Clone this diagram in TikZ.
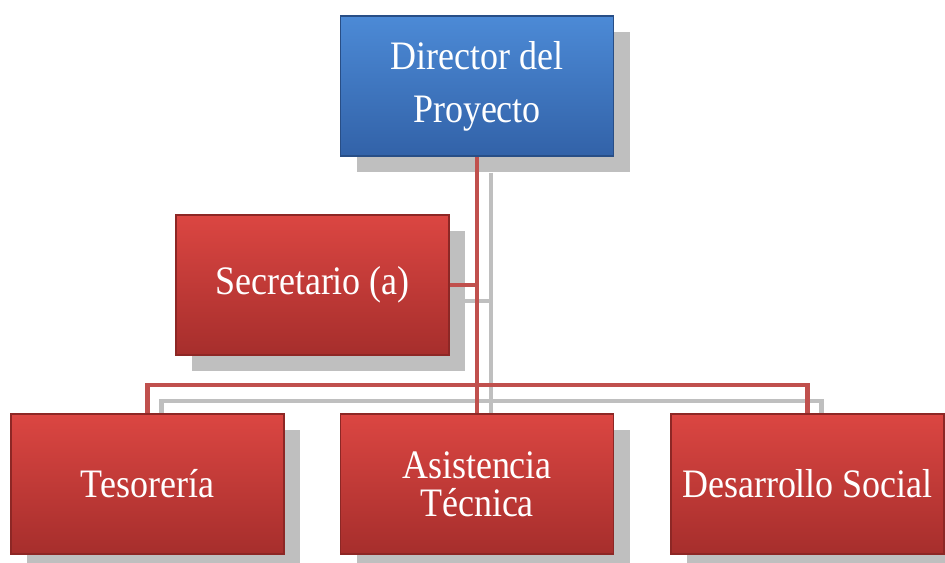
\documentclass[tikz,border=0pt]{standalone}
\usepackage{fontspec}
\setmainfont{Liberation Serif}[FakeStretch=0.89]
\usetikzlibrary{shadows,backgrounds}
\definecolor{rojoarriba}{RGB}{219,70,66}
\definecolor{rojoabajo}{RGB}{166,46,44}
\definecolor{azularriba}{RGB}{76,138,214}
\definecolor{azulabajo}{RGB}{50,98,168}
\definecolor{linea}{RGB}{192,80,77}
\definecolor{sombra}{RGB}{191,191,191}
\begin{document}
\begin{tikzpicture}[
		caja/.style={rectangle, minimum width=5.46cm, minimum height=2.8cm, inner sep=0pt,
			text=white, align=center, font=\fontsize{23}{30}\selectfont,
			drop shadow={shadow xshift=0.32cm, shadow yshift=-0.32cm, fill=sombra, opacity=1}},
		cajaroja/.style={caja, top color=rojoarriba, bottom color=rojoabajo, draw=rojoabajo!85!black, line width=0.6pt},
		cajaazul/.style={caja, top color=azularriba, bottom color=azulabajo, draw=azulabajo!80!black, line width=0.6pt},
		enlace/.style={linea, line width=2.3pt},
		enlacesombra/.style={sombra, line width=2.3pt, transform canvas={shift={(0.28cm,-0.32cm)}}}
	]
		\useasboundingbox (0,0) rectangle (18.9,11.26);
		\node[cajaazul] (dir) at (9.54, 9.54) {Director del\\Proyecto};
		\node[cajaroja] (sec) at (6.25, 5.56) {Secretario (a)};
		\node[cajaroja] (tes) at (2.95, 1.58) {Tesorería};
		\node[cajaroja, font=\fontsize{23}{21.6}\selectfont] (asis) at (9.54, 1.58) {Asistencia\\Técnica};
		\node[cajaroja] (des) at (16.15, 1.58) {Desarrollo Social};
		% sombra de las lineas, detras de las cajas
		\begin{scope}[on background layer]
			\draw[enlacesombra] (dir.south) -- (asis.north);
			\draw[enlacesombra] (sec.east) -- (sec.east -| dir.south);
			\draw[enlacesombra] (tes.north) -- ++(0,0.56) -| (des.north);
		\end{scope}
		% lineas
		\draw[enlace] (dir.south) -- (asis.north);
		\draw[enlace] (sec.east) -- (sec.east -| dir.south);
		\draw[enlace] (tes.north) -- ++(0,0.56) -| (des.north);
	\end{tikzpicture}
\end{document}
